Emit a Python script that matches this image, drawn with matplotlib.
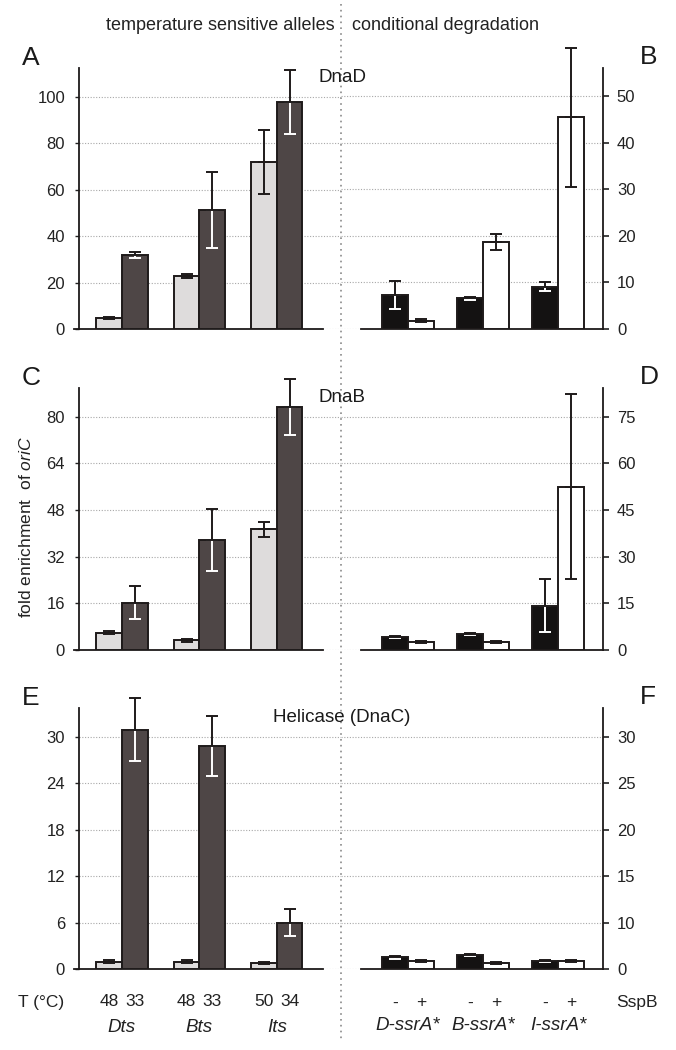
import matplotlib
matplotlib.use("Agg")
import matplotlib.pyplot as plt
from matplotlib.transforms import blended_transform_factory

plt.rcParams["font.family"] = ["Liberation Sans", "DejaVu Sans"]
plt.rcParams["mathtext.fontset"] = "custom"
plt.rcParams["mathtext.rm"] = "Liberation Sans"
plt.rcParams["mathtext.it"] = "Liberation Sans:italic"

# categories
ts_alleles = ["Dts", "Bts", "Its"]
ts_temps = [["48", "33"], ["48", "33"], ["50", "34"]]
deg_alleles = ["D-ssrA*", "B-ssrA*", "I-ssrA*"]
sspb_marks = ["-", "+"]

# DnaD (A, B)
dnad_ts_hot = [4.6, 22.8, 72.0]
dnad_ts_hot_err = [0.4, 0.8, 13.8]
dnad_ts_cold = [31.8, 51.2, 97.7]
dnad_ts_cold_err = [1.2, 16.3, 13.8]
dnad_deg_minus = [7.3, 6.6, 9.1]
dnad_deg_minus_err = [3.0, 0.3, 1.0]
dnad_deg_plus = [1.8, 18.7, 45.5]
dnad_deg_plus_err = [0.3, 1.8, 15.0]

# DnaB (C, D)
dnab_ts_hot = [5.9, 3.3, 41.4]
dnab_ts_hot_err = [0.5, 0.4, 2.6]
dnab_ts_cold = [16.2, 37.7, 83.3]
dnab_ts_cold_err = [5.6, 10.7, 9.5]
dnab_deg_minus = [4.3, 5.1, 14.3]
dnab_deg_minus_err = [0.3, 0.4, 8.5]
dnab_deg_plus = [2.7, 2.7, 52.5]
dnab_deg_plus_err = [0.3, 0.3, 29.7]

# DnaC (E, F)
dnac_ts_hot = [0.95, 0.95, 0.8]
dnac_ts_hot_err = [0.15, 0.15, 0.15]
dnac_ts_cold = [30.9, 28.8, 6.0]
dnac_ts_cold_err = [4.1, 3.9, 1.7]
dnac_deg_minus = [1.25, 1.5, 0.9]
dnac_deg_minus_err = [0.15, 0.15, 0.1]
dnac_deg_plus = [0.82, 0.64, 0.86]
dnac_deg_plus_err = [0.1, 0.1, 0.1]

# axis ticks
ticks_a = [0, 20, 40, 60, 80, 100]
ticks_b = [0, 10, 20, 30, 40, 50]
ticks_c = [0, 16, 32, 48, 64, 80]
ticks_d = [0, 15, 30, 45, 60, 75]
ticks_e = [0, 6, 12, 18, 24, 30]
ticks_f = [0, 5, 10, 15, 20, 25]
ticklabels_f = ["0", "10", "15", "20", "25", "30"]

W, H = 676, 1050
LIGHT = "#dedcdc"
DARK = "#4e4646"
BLACK = "#141212"
EDGE = "#1e1a1a"

fig = plt.figure(figsize=(W / 100, H / 100), dpi=100)


def rect(x0, y0, x1, y1):
    return [x0 / W, 1 - y1 / H, (x1 - x0) / W, (y1 - y0) / H]


def fy(py):
    return 1 - py / H


def bars(ax, xs, vals, errs, color, inner_color, w):
    ax.bar(xs, vals, w, color=color, edgecolor=EDGE, linewidth=1.4, zorder=3)
    # lower part of the error bar sits inside the bar
    ax.errorbar(xs, vals, yerr=[errs, [0] * len(errs)], fmt="none",
                ecolor=inner_color, elinewidth=1.4, capsize=4.5,
                capthick=1.4, zorder=4, clip_on=False)
    ax.errorbar(xs, vals, yerr=[[0] * len(errs), errs], fmt="none",
                ecolor=EDGE, elinewidth=1.4, capsize=4.5,
                capthick=1.4, zorder=5, clip_on=False)


def style(ax, ticks, ylim, side, xlim, bound, ticklabels=None):
    ax.set_ylim(0, ylim)
    ax.set_xlim(*xlim)
    ax.set_xticks([])
    ax.set_yticks(ticks)
    if ticklabels is not None:
        ax.set_yticklabels(ticklabels)
    ax.yaxis.grid(True, linestyle=(0, (1, 1.5)), color="#a8a8a8", lw=0.8)
    ax.set_axisbelow(True)
    ax.patch.set_alpha(0)
    for s in ["top", "left", "right", "bottom"]:
        ax.spines[s].set_visible(False)
    ax.spines["bottom"].set_visible(True)
    ax.spines["bottom"].set_linewidth(1.3)
    ax.spines["bottom"].set_color(EDGE)
    ax.spines["bottom"].set_bounds(*bound)
    ax.spines[side].set_visible(True)
    ax.spines[side].set_linewidth(1.3)
    ax.spines[side].set_color(EDGE)
    if side == "right":
        ax.yaxis.tick_right()
        ax.tick_params(axis="y", length=4, width=1.2, pad=6, labelsize=12,
                       colors="#222222")
    else:
        ax.tick_params(axis="y", length=3, width=1.0, pad=7, labelsize=12,
                       colors="#222222")


XL = (-0.555, 2.83)
XR = (-0.893, 2.60)
WL = 0.332
WR = 0.347
xs = [0, 1, 2]

panels = [
    (68, 329, 112.3, ticks_a, 56.1, ticks_b, None,
     dnad_ts_hot, dnad_ts_hot_err, dnad_ts_cold, dnad_ts_cold_err,
     dnad_deg_minus, dnad_deg_minus_err, dnad_deg_plus, dnad_deg_plus_err,
     "A", "B", "DnaD"),
    (388, 650, 89.8, ticks_c, 84.2, ticks_d, None,
     dnab_ts_hot, dnab_ts_hot_err, dnab_ts_cold, dnab_ts_cold_err,
     dnab_deg_minus, dnab_deg_minus_err, dnab_deg_plus, dnab_deg_plus_err,
     "C", "D", "DnaB"),
    (708, 969, 33.7, ticks_e, 28.1, ticks_f, ticklabels_f,
     dnac_ts_hot, dnac_ts_hot_err, dnac_ts_cold, dnac_ts_cold_err,
     dnac_deg_minus, dnac_deg_minus_err, dnac_deg_plus, dnac_deg_plus_err,
     "E", "F", "Helicase (DnaC)"),
]

axes_left, axes_right = [], []
for (top, bot, ylim_l, tk_l, ylim_r, tk_r, tl_r,
     hot, hot_e, cold, cold_e, mn, mn_e, pl, pl_e,
     lab_l, lab_r, title) in panels:
    axl = fig.add_axes(rect(79, top, 341, bot))
    axr = fig.add_axes(rect(341, top, 603, bot))
    bars(axl, [x - WL / 2 for x in xs], hot, hot_e, LIGHT, EDGE, WL)
    bars(axl, [x + WL / 2 for x in xs], cold, cold_e, DARK, "white", WL)
    bars(axr, [x - WR / 2 for x in xs], mn, mn_e, BLACK, "white", WR)
    bars(axr, [x + WR / 2 for x in xs], pl, pl_e, "white", EDGE, WR)
    style(axl, tk_l, ylim_l, "left", XL, (-0.62, 2.593))
    style(axr, tk_r, ylim_r, "right", XR, (-0.627, XR[1]), tl_r)
    fig.text(22 / W, fy(top - 3), lab_l, fontsize=19, ha="left", va="baseline",
             color="#1a1a1a")
    fig.text(640 / W, fy(top - 4), lab_r, fontsize=19, ha="left", va="baseline",
             color="#1a1a1a")
    fig.text(342 / W, fy(top + 10), title, fontsize=13.5, ha="center",
             va="center", color="#1a1a1a")
    axes_left.append(axl)
    axes_right.append(axr)

# headers
fig.text(220 / W, fy(25), "temperature sensitive alleles", fontsize=13,
         ha="center", va="center", color="#222222")
fig.text(445 / W, fy(25), "conditional degradation", fontsize=13,
         ha="center", va="center", color="#222222")

# dotted separator
fig.add_artist(plt.Line2D([341 / W, 341 / W], [fy(4), fy(1040)],
                          transform=fig.transFigure, color="#8a8a8a",
                          lw=1.2, linestyle=(0, (1, 2.5))))

# y label
fig.text(26 / W, fy(527), r"fold enrichment  of $\mathit{oriC}$",
         rotation=90, fontsize=12.5, ha="center", va="center",
         color="#222222")

# bottom labels
axe = axes_left[-1]
axf = axes_right[-1]
tl = blended_transform_factory(axe.transData, fig.transFigure)
tr = blended_transform_factory(axf.transData, fig.transFigure)
fig.text(18 / W, fy(1002), "T (\u00b0C)", fontsize=12.5, ha="left",
         va="center", color="#222222")
for i, name in enumerate(ts_alleles):
    axe.text(i - WL / 2, fy(1002), ts_temps[i][0], transform=tl,
             fontsize=12.5, ha="center", va="center", color="#222222")
    axe.text(i + WL / 2, fy(1002), ts_temps[i][1], transform=tl,
             fontsize=12.5, ha="center", va="center", color="#222222")
    axe.text(i, fy(1027), name, transform=tl, fontsize=13.5,
             style="italic", ha="center", va="center", color="#222222")
for i, name in enumerate(deg_alleles):
    axf.text(i - WR / 2, fy(1003), sspb_marks[0], transform=tr,
             fontsize=12.5, ha="center", va="center", color="#222222")
    axf.text(i + WR / 2, fy(1003), sspb_marks[1], transform=tr,
             fontsize=12.5, ha="center", va="center", color="#222222")
    axf.text(i, fy(1026), name, transform=tr, fontsize=13.5,
             style="italic", ha="center", va="center", color="#222222")
fig.text(616 / W, fy(1003), "SspB", fontsize=12.5, ha="left", va="center",
         color="#222222")

fig.savefig("out.png", dpi=100)
